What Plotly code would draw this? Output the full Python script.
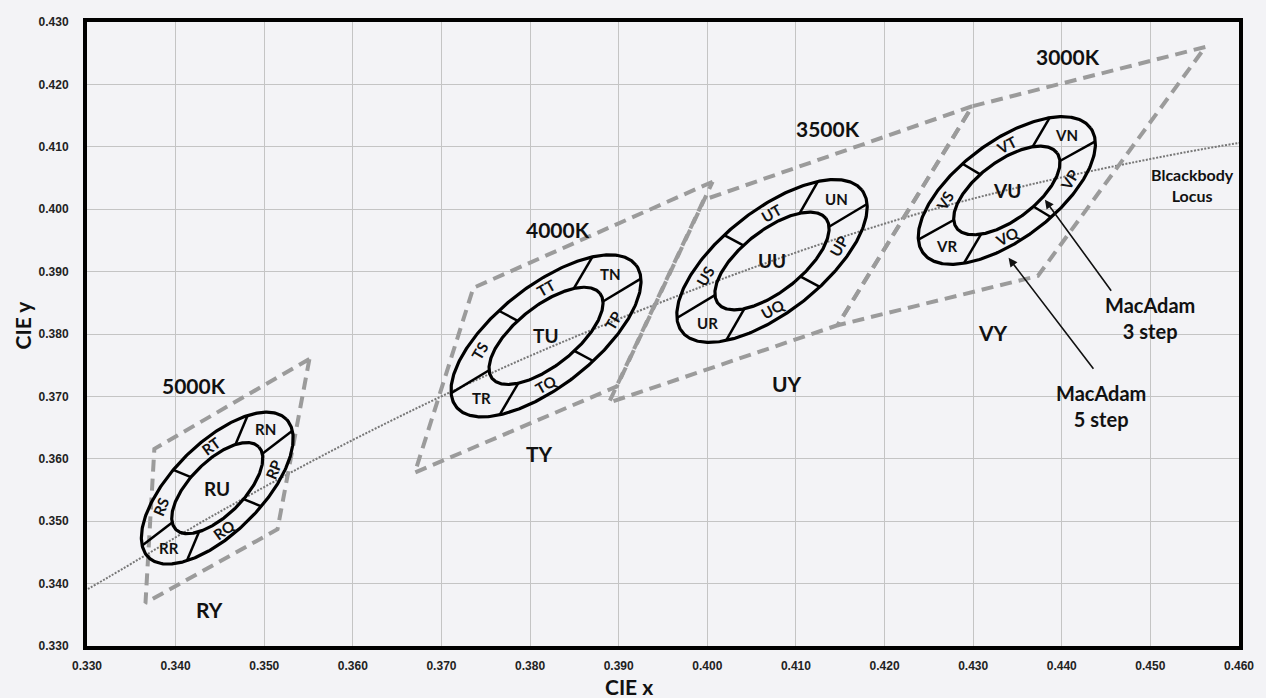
import numpy as np
import plotly.graph_objects as go

# ---------------- data ----------------
x_range = [0.330, 0.460]
y_range = [0.330, 0.430]
tick_step = 0.010

# Planckian (blackbody) locus, CIE 1931 x,y
locus_x = [0.3287, 0.3325, 0.3451, 0.3608, 0.3805, 0.4053, 0.4231, 0.4369, 0.4520, 0.4599, 0.4640]
locus_y = [0.3380, 0.3411, 0.3516, 0.3636, 0.3768, 0.3907, 0.3990, 0.4041, 0.4086, 0.4106, 0.4115]

# ANSI nominal CCT quadrangles
cct_names = ["5000K", "4000K", "3500K", "3000K"]
quad_names = ["RY", "TY", "UY", "VY"]
quad_x = [[0.3551, 0.3376, 0.3366, 0.3515],
          [0.4006, 0.3736, 0.3670, 0.3898],
          [0.4299, 0.3996, 0.3889, 0.4147],
          [0.4562, 0.4299, 0.4147, 0.4373]]
quad_y = [[0.3760, 0.3616, 0.3369, 0.3487],
          [0.4044, 0.3874, 0.3578, 0.3716],
          [0.4165, 0.4015, 0.3690, 0.3814],
          [0.4260, 0.4165, 0.3814, 0.3893]]

# MacAdam 5-step ellipses (centre + conjugate half-axis vectors, CIE x,y units)
bin_prefix = ["R", "T", "U", "V"]
ell_cx = [0.3447, 0.3818, 0.4073, 0.4338]
ell_cy = [0.3553, 0.3797, 0.3917, 0.4030]
ell_major_dx = [0.00780, 0.01015, 0.01015, 0.00945]
ell_major_dy = [0.01104, 0.01135, 0.01135, 0.01001]
ell_minor_dx = [-0.00354, -0.00345, -0.00352, -0.00326]
ell_minor_dy = [0.00513, 0.00631, 0.00644, 0.00631]
inner_step_ratio = 3 / 5          # MacAdam 3-step vs 5-step

# segment dividers (parametric angle, deg) and segment letters in between
divider_deg = [-16, 42, 101, 164, 222, 281]
segment_letters = ["N", "T", "S", "R", "Q", "P"]
segment_rotated = [False, True, True, False, True, True]

cct_label_x = [0.3421, 0.3831, 0.4136, 0.4407]
cct_label_y = [0.3718, 0.3968, 0.4130, 0.4244]
quad_label_x = [0.3438, 0.3811, 0.4090, 0.4322]
quad_label_y = [0.3358, 0.3609, 0.3720, 0.3802]

# ---------------- layout constants ----------------
W, H = 1266, 698
ML, MR, MT, MB = 87, 19, 22, 52
PW, PH = W - ML - MR, H - MT - MB
sx = PW / (x_range[1] - x_range[0])
sy = PH / (y_range[1] - y_range[0])

BG = "#f3f3f6"
TXT = "#111111"
FONT = "Lato, 'Open Sans', sans-serif"

fig = go.Figure()

# blackbody locus
fig.add_trace(go.Scatter(x=locus_x, y=locus_y, mode="lines",
                         line=dict(color="#777777", width=2, dash="2px,1.5px", shape="spline"),
                         hoverinfo="skip", showlegend=False))

# quadrangles
for qx, qy in zip(quad_x, quad_y):
    fig.add_trace(go.Scatter(x=qx + [qx[0]], y=qy + [qy[0]], mode="lines",
                             line=dict(color="#9b9b9b", width=4, dash="12px,7px"),
                             hoverinfo="skip", showlegend=False))

annotations = []
t = np.linspace(0, 2 * np.pi, 361)
for i in range(len(ell_cx)):
    cx, cy = ell_cx[i], ell_cy[i]
    U = np.array([ell_major_dx[i], ell_major_dy[i]])
    V = np.array([ell_minor_dx[i], ell_minor_dy[i]])
    for scale in (1.0, inner_step_ratio):
        ex = cx + scale * (U[0] * np.cos(t) + V[0] * np.sin(t))
        ey = cy + scale * (U[1] * np.cos(t) + V[1] * np.sin(t))
        fig.add_trace(go.Scatter(x=ex, y=ey, mode="lines",
                                 line=dict(color="black", width=3.2),
                                 hoverinfo="skip", showlegend=False))
    dx, dy = [], []
    for d in divider_deg:
        a = np.radians(d)
        px = U[0] * np.cos(a) + V[0] * np.sin(a)
        py = U[1] * np.cos(a) + V[1] * np.sin(a)
        dx += [cx + inner_step_ratio * px, cx + px, None]
        dy += [cy + inner_step_ratio * py, cy + py, None]
    fig.add_trace(go.Scatter(x=dx, y=dy, mode="lines",
                             line=dict(color="black", width=2.5),
                             hoverinfo="skip", showlegend=False))
    # segment labels
    mid_r = (1 + inner_step_ratio) / 2
    for k, letter in enumerate(segment_letters):
        d0 = divider_deg[k]
        d1 = divider_deg[(k + 1) % len(divider_deg)]
        if d1 < d0:
            d1 += 360
        a = np.radians((d0 + d1) / 2)
        lx = cx + mid_r * (U[0] * np.cos(a) + V[0] * np.sin(a))
        ly = cy + mid_r * (U[1] * np.cos(a) + V[1] * np.sin(a))
        ang = 0
        if segment_rotated[k]:
            tx = (-U[0] * np.sin(a) + V[0] * np.cos(a)) * sx
            ty = (-U[1] * np.sin(a) + V[1] * np.cos(a)) * sy
            deg = np.degrees(np.arctan2(ty, tx))
            if deg > 90:
                deg -= 180
            if deg <= -90:
                deg += 180
            ang = -deg
        annotations.append(dict(x=lx, y=ly, xref="x", yref="y", text=bin_prefix[i] + letter,
                                showarrow=False, textangle=ang,
                                font=dict(family=FONT, size=15, color=TXT, weight="bold")))
    annotations.append(dict(x=cx, y=cy, xref="x", yref="y", text="<b>" + bin_prefix[i] + "U</b>",
                            showarrow=False, font=dict(family=FONT, size=19, color=TXT)))

for name, lx, ly in zip(cct_names, cct_label_x, cct_label_y):
    annotations.append(dict(x=lx, y=ly, xref="x", yref="y", text="<b>" + name + "</b>",
                            showarrow=False, font=dict(family=FONT, size=21, color=TXT)))
for name, lx, ly in zip(quad_names, quad_label_x, quad_label_y):
    annotations.append(dict(x=lx, y=ly, xref="x", yref="y", text="<b>" + name + "</b>",
                            showarrow=False, font=dict(family=FONT, size=21, color=TXT)))

annotations.append(dict(x=0.4548, y=0.4039, xref="x", yref="y", text="<b>Blcackbody<br>Locus</b>",
                        showarrow=False, font=dict(family=FONT, size=16, color=TXT)))
annotations.append(dict(x=0.4499, y=0.3826, xref="x", yref="y", text="<b>MacAdam<br>3 step</b>",
                        showarrow=False, font=dict(family=FONT, size=20, color=TXT)))
annotations.append(dict(x=0.4444, y=0.3685, xref="x", yref="y", text="<b>MacAdam<br>5 step</b>",
                        showarrow=False, font=dict(family=FONT, size=20, color=TXT)))
# arrows
annotations.append(dict(x=0.4381, y=0.4015, ax=0.4457, ay=0.3867, xref="x", yref="y",
                        axref="x", ayref="y", text="", showarrow=True, arrowhead=2,
                        arrowsize=1.1, arrowwidth=1.6, arrowcolor="#111"))
annotations.append(dict(x=0.4340, y=0.3922, ax=0.4437, ay=0.3742, xref="x", yref="y",
                        axref="x", ayref="y", text="", showarrow=True, arrowhead=2,
                        arrowsize=1.1, arrowwidth=1.6, arrowcolor="#111"))

# axis titles
annotations.append(dict(x=(633 - ML) / PW, y=-(686 - (H - MB)) / PH, xref="paper", yref="paper",
                        xanchor="center", yanchor="middle",
                        text="<b>CIE x</b>", showarrow=False,
                        font=dict(family=FONT, size=21, color=TXT)))
annotations.append(dict(x=(22 - ML) / PW, y=((H - MB) - 325) / PH, xref="paper", yref="paper",
                        xanchor="center", yanchor="middle",
                        text="<b>CIE y</b>", showarrow=False, textangle=-90,
                        font=dict(family=FONT, size=21, color=TXT)))

tick_font = dict(family="'Liberation Sans', Arial, sans-serif", size=12, color="#222", weight="bold")
axis_common = dict(showgrid=True, gridcolor="#c4c4c4", gridwidth=1, zeroline=False,
                   showline=True, linecolor="black", linewidth=4, mirror=True,
                   ticks="", tickformat=".3f", dtick=tick_step, tickfont=tick_font)

fig.update_layout(
    width=W, height=H,
    margin=dict(l=ML, r=MR, t=MT, b=MB),
    paper_bgcolor=BG, plot_bgcolor=BG,
    xaxis=dict(range=x_range, tick0=x_range[0], ticklabelstandoff=6, **axis_common),
    yaxis=dict(range=y_range, tick0=y_range[0], ticklabelstandoff=12, **axis_common),
    annotations=annotations,
    showlegend=False,
)

fig.write_html("out.html", config={"displayModeBar": False},
               post_script="document.body.style.margin='0';document.body.style.background='%s';" % BG)
